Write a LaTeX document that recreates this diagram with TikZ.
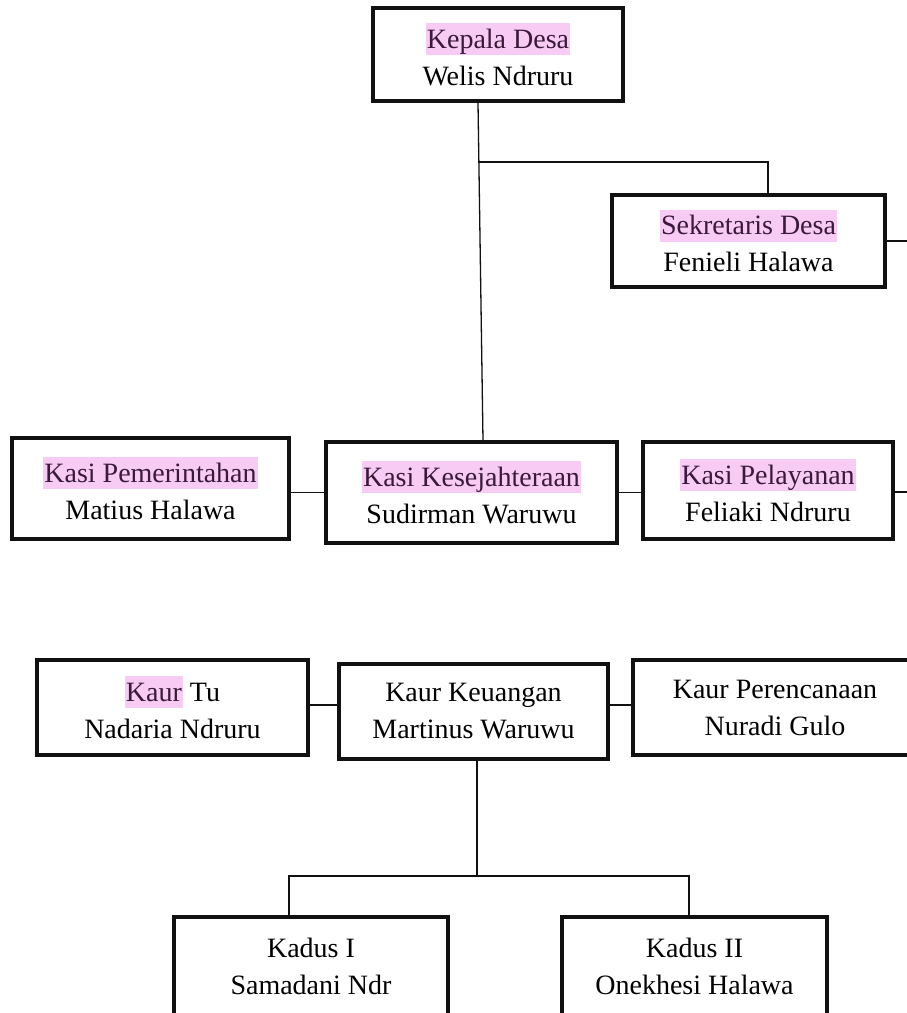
\documentclass[tikz,border=0pt]{standalone}
\usepackage{fontspec}
\setmainfont{Liberation Serif}
\usepackage{tikz}
\usetikzlibrary{positioning,calc}
\definecolor{orgLine}{HTML}{111111}
\definecolor{orgHl}{HTML}{F8CBF5}
\definecolor{orgHlText}{HTML}{3A1A3A}
\newcommand{\hlt}[1]{{\setlength{\fboxsep}{1pt}\colorbox{orgHl}{\rule[-6pt]{0pt}{30pt}\color{orgHlText}#1}}}
\tikzset{
  org/.style={x=1pt, y=-1pt, font=\fontsize{28}{37}\selectfont},
  post/.style={draw=orgLine, line width=3.5pt, fill=white, align=center, inner sep=0pt},
  conn/.style={-, draw=orgLine, line width=1.3pt},
}

\begin{document}
\begin{tikzpicture}[org]
\useasboundingbox (0,0) rectangle (907,1013);

\node[post, minimum width=250pt, minimum height=93pt] (kepala) at (498,54.5) {\hlt{Kepala Desa}\\Welis Ndruru};
\node[post, minimum width=273pt, minimum height=92pt] (sekdes) at (748.5,241) {\hlt{Sekretaris Desa}\\Fenieli Halawa};

\node[post, minimum width=277pt, minimum height=101pt] (kasipem) at (150.5,488.5) {\hlt{Kasi Pemerintahan}\\Matius Halawa};
\node[post, minimum width=291pt, minimum height=101pt] (kasikes) at (471.5,492.5) {\hlt{Kasi Kesejahteraan}\\Sudirman Waruwu};
\node[post, minimum width=250pt, minimum height=97pt] (kasipel) at (768,490.5) {\hlt{Kasi Pelayanan}\\Feliaki Ndruru};

\node[post, minimum width=271pt, minimum height=95pt] (kaurtu) at (172.5,707.5) {\hlt{Kaur} Tu\\Nadaria Ndruru};
\node[post, minimum width=269pt, minimum height=95pt] (kaurkeu) at (473.5,711.5) {Kaur Keuangan\\Martinus Waruwu};
\node[post, minimum width=284pt, minimum height=95pt] (kaurper) at (775,707.5) {Kaur Perencanaan\\Nuradi Gulo};

\node[post, minimum width=274pt, minimum height=98pt] (kadus1) at (311,966) {Kadus I\\Samadani Ndr};
\node[post, minimum width=265pt, minimum height=98pt] (kadus2) at (694.5,966) {Kadus II\\Onekhesi Halawa};

% junctions and free ends
\coordinate (top) at (478,162);
\coordinate (low) at (477,876);
\coordinate (sekout) at (910,241);
\coordinate (pelout) at (910,492);

\draw[conn] ([xshift=-20pt]kepala.south) -- ([xshift=11.5pt]kasikes.north);
\draw[conn] (top) -| ([xshift=19.5pt]sekdes.north);
\draw[conn] (sekdes.east) -- (sekout);

\draw[conn] (kasipem.east |- kasikes.west) -- (kasikes.west);
\draw[conn] (kasikes.east) -- (kasikes.east -| kasipel.west);
\draw[conn] (kasipel.east |- pelout) -- (pelout);

\draw[conn] (kaurtu.east |- 0,705) -- (kaurkeu.west |- 0,705);
\draw[conn] (kaurkeu.east |- 0,705) -- (kaurper.west |- 0,705);

\draw[conn] ([xshift=3.5pt]kaurkeu.south) -- (low);
\draw[conn] (low) -| ([xshift=-22pt]kadus1.north);
\draw[conn] (low) -| ([xshift=-5.5pt]kadus2.north);
\end{tikzpicture}
\end{document}
